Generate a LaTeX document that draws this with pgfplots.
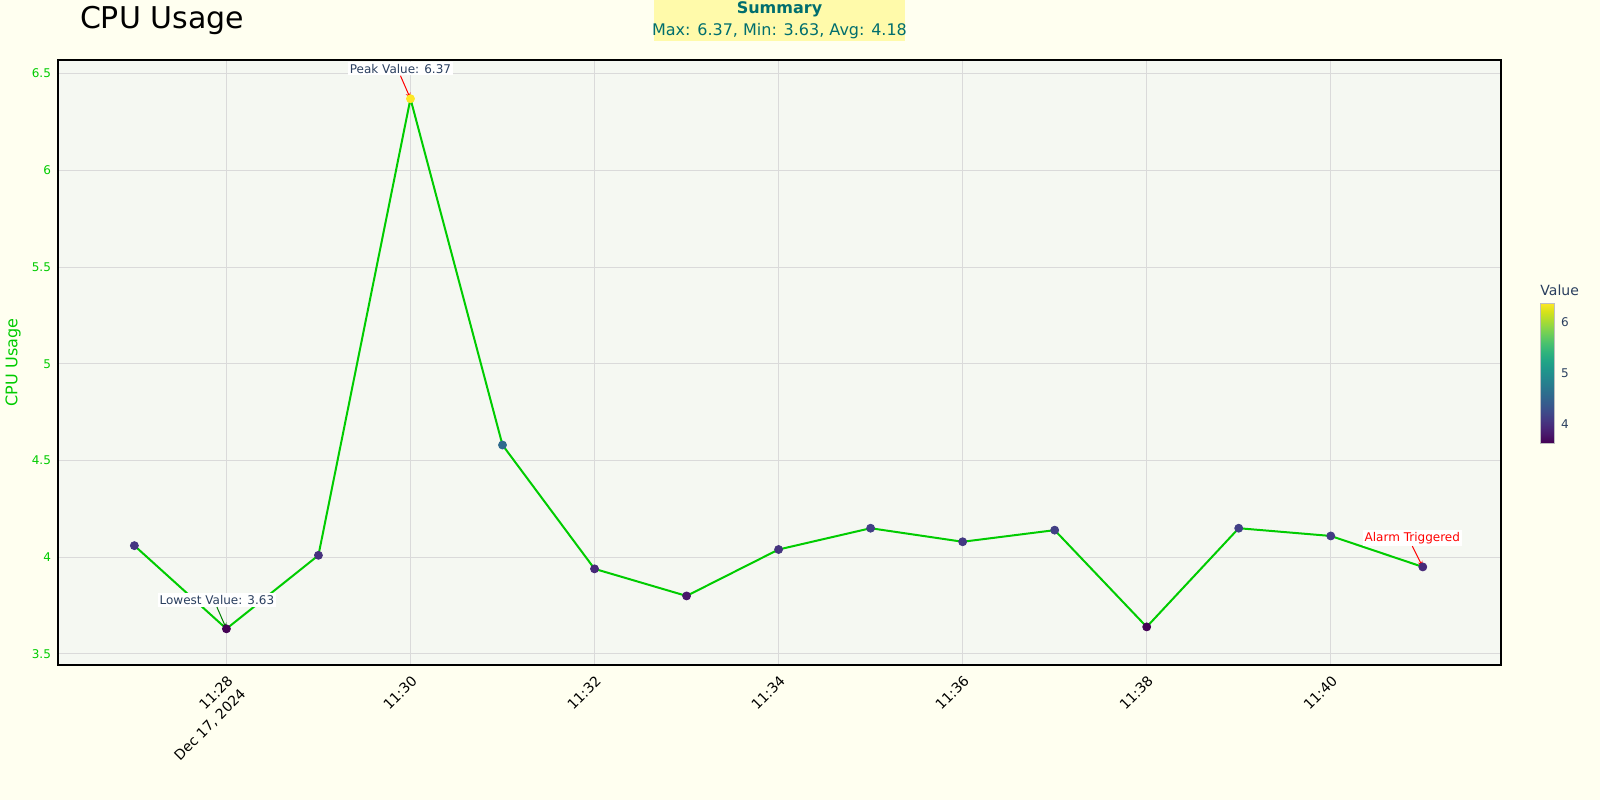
\documentclass[border=0pt]{standalone}
\usepackage{pgfplots}
\pgfplotsset{compat=1.18}
\usepackage{fontspec}
\setmainfont{DejaVu Sans}
\usetikzlibrary{arrows.meta}
\definecolor{pagebg}{RGB}{255,255,240}
\definecolor{plotbg}{RGB}{245,248,242}
\definecolor{gridc}{RGB}{218,218,218}
\definecolor{linec}{RGB}{0,204,0}
\definecolor{tickg}{RGB}{0,204,0}
\definecolor{sumbg}{RGB}{255,250,170}
\definecolor{sumtx}{RGB}{0,110,110}
\definecolor{annot}{RGB}{42,63,95}
\definecolor{lowarrow}{RGB}{0,128,0}
\begin{document}
\begin{tikzpicture}[x=1pt,y=1pt]
\fill[pagebg] (0,0) rectangle (800,400);
\useasboundingbox (0,0) rectangle (800,400);
\begin{axis}[
  at={(29pt,67.5pt)}, anchor=south west,
  scale only axis, width=721.5pt, height=302.5pt,
  xmin=26.17, xmax=41.85, ymin=3.443, ymax=6.57,
  clip=false,
  /pgf/number format/assume math mode=true,
  axis background/.style={fill=plotbg},
  axis line style={black, line width=1pt},
  grid=major, grid style={gridc, line width=0.5pt},
  major tick length=0pt,
  xtick={28,30,32,34,36,38,40},
  xticklabels={{11:28\\Dec 17, 2024},11:30,11:32,11:34,11:36,11:38,11:40},
  xticklabel style={rotate=45, anchor=north east, align=right, font=\fontsize{7}{9}\selectfont, text=black},
  ytick={3.5,4,4.5,5,5.5,6,6.5},
  yticklabels={3.5,4,4.5,5,5.5,6,6.5},
  yticklabel style={font=\fontsize{6}{7}\selectfont, text=tickg},
  ylabel={CPU Usage},
  ylabel style={at={(axis description cs:0,0.5)}, anchor=center, yshift=22.4pt, font=\fontsize{8}{9.5}\selectfont, text=tickg},
  colormap/viridis,
  point meta min=3.63, point meta max=6.37,
  colorbar,
  colorbar style={
    at={(parent axis.north east)}, anchor=north west,
    xshift=11pt, yshift=-121.5pt,
    scale only axis,
    width=7pt, height=70pt,
    ytick={4,5,6},
    yticklabels={4,5,6},
    major tick length=0pt,
    yticklabel style={font=\fontsize{6}{7}\selectfont, text=annot},
    axis line style={draw=gray!50, line width=0.5pt},
  },
]
\addplot[linec, line width=1pt, no marks] coordinates {
(27,4.06) (28,3.63) (29,4.01) (30,6.37) (31,4.58) (32,3.94) (33,3.80) (34,4.04)
(35,4.15) (36,4.08) (37,4.14) (38,3.64) (39,4.15) (40,4.11) (41,3.95)
};
\addplot[scatter, only marks, mark=*, mark size=2pt,
  scatter/use mapped color={draw=mapped color, fill=mapped color}] coordinates {
(27,4.06) (28,3.63) (29,4.01) (30,6.37) (31,4.58) (32,3.94) (33,3.80) (34,4.04)
(35,4.15) (36,4.08) (37,4.14) (38,3.64) (39,4.15) (40,4.11) (41,3.95)
};
\node[fill=white, inner sep=1pt, text=annot, font=\fontsize{6}{7}\selectfont, xshift=-5pt, yshift=15pt] (pk) at (axis cs:30,6.37) {Peak Value: 6.37};
\draw[-{Stealth[length=3pt,width=2.5pt]}, red, line width=0.5pt] (pk.south) -- (axis cs:30,6.37);
\node[fill=white, inner sep=1pt, text=annot, font=\fontsize{6}{7}\selectfont, xshift=-4.75pt, yshift=14.4pt] (lo) at (axis cs:28,3.63) {Lowest Value: 3.63};
\draw[-{Stealth[length=3pt,width=2.5pt]}, lowarrow, line width=0.5pt] (lo.south) -- (axis cs:28,3.63);
\node[fill=white, inner sep=1pt, text=red, font=\fontsize{6}{7}\selectfont, xshift=-5.25pt, yshift=14.5pt] (al) at (axis cs:41,3.95) {Alarm Triggered};
\draw[-{Stealth[length=3pt,width=2.5pt]}, red, line width=0.5pt] (al.south) -- (axis cs:41,3.95);
\end{axis}
\node[anchor=west, inner sep=0pt, font=\fontsize{7}{8}\selectfont, text=annot] at (770,255) {Value};
\node[anchor=west, inner sep=0pt, font=\fontsize{15}{18}\selectfont] at (39.8,389.6) {CPU Usage};
\fill[sumbg] (327,379.5) rectangle (452.5,400);
\node[font=\bfseries\fontsize{8}{9.5}\selectfont, text=sumtx, inner sep=0pt] at (389.75,395.2) {Summary};
\node[font=\fontsize{8}{9.5}\selectfont, text=sumtx, inner sep=0pt] at (389.75,384.7) {Max: 6.37, Min: 3.63, Avg: 4.18};
\end{tikzpicture}
\end{document}
